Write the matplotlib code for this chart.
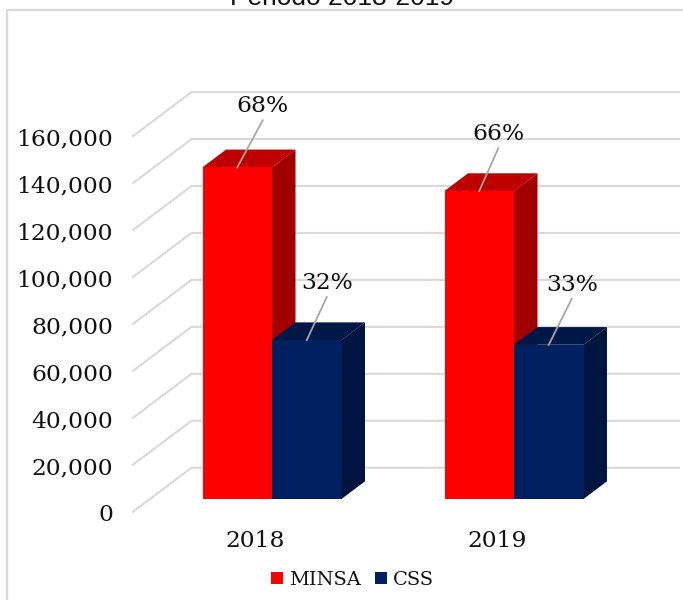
import matplotlib
matplotlib.use("Agg")
import matplotlib.pyplot as plt
from matplotlib.lines import Line2D
from matplotlib.patches import Polygon

years = ["2018", "2019"]
minsa = [141300, 131200]
css = [67700, 65700]
minsa_pct = ["68%", "66%"]
css_pct = ["32%", "33%"]
y_ticks = [0, 20000, 40000, 60000, 80000, 100000, 120000, 140000, 160000]

# pixel layout of the fake 3d box
W, H = 683, 600
PX_PER_CAT = 242.0
PX_PER_VAL = 46.95 / 20000
BASE_X, BASE_Y = 272.0, 499.0

RED = ("#ff0000", "#bf0000", "#a00000")
BLUE = ("#002060", "#001848", "#001440")
GRID = "#d9d9d9"
SERIF = "DejaVu Serif"
INK = "#111111"


def dx(px):
    return px / PX_PER_CAT


def dy(px):
    return px / PX_PER_VAL


fig = plt.figure(figsize=(W / 100, H / 100), dpi=100)
ax = fig.add_axes([0, 0, 1, 1])
ax.set_xlim(-BASE_X / PX_PER_CAT, (W - BASE_X) / PX_PER_CAT)
ax.set_ylim(-(H - BASE_Y) / PX_PER_VAL, BASE_Y / PX_PER_VAL)
ax.axis("off")

# chart frame, runs off the right and bottom of the picture
fig.add_artist(Line2D([7 / W, 7 / W, 1], [0, 1 - 10 / H, 1 - 10 / H], color=GRID, lw=1.6))

# the title is cut by the top edge in the reference too
fig.text(342 / W, 1 - 5 / H, "Periodo 2018-2019", family="Liberation Sans", fontsize=19,
         ha="center", va="baseline", color=INK)

# gridlines: side wall then back wall
left_front = dx(133 - BASE_X)
left_back = dx(191.5 - BASE_X)
right_back = dx(679 - BASE_X)
for v in y_ticks:
    y_front = v + dy(499 - 511.7)
    y_back = v + dy(499 - 467.7)
    ax.plot([left_front, left_back, right_back], [y_front, y_back, y_back],
            color=GRID, lw=1.5, solid_joinstyle="miter", zorder=1)
    ax.text(dx(113 - BASE_X), y_front - dy(1), f"{v:,}", family=SERIF, fontsize=16.8,
            ha="right", va="center_baseline", color=INK)

bar_w = dx(69.5)
depth_x = dx(23.5)
depth_y = dy(17.7)


def draw_bar(x0, value, colors, label=None):
    x1 = x0 + bar_w
    ax.add_patch(Polygon([(x1, 0), (x1 + depth_x, depth_y), (x1 + depth_x, value + depth_y), (x1, value)],
                         facecolor=colors[2], edgecolor="none", zorder=3))
    ax.add_patch(Polygon([(x0, value), (x0 + depth_x, value + depth_y), (x1 + depth_x, value + depth_y), (x1, value)],
                         facecolor=colors[1], edgecolor="none", zorder=3))
    return ax.bar(x0, value, width=bar_w, align="edge", color=colors[0], label=label, zorder=4)


def draw_label(x0, value, text, line_px, label_dy):
    # leader from the middle of the front top edge up to the percentage
    xc = x0 + bar_w / 2
    xt = xc + dx(line_px[0])
    yt = value + dy(line_px[1])
    ax.plot([xc, xt], [value, yt], color="#a6a6a6", lw=1.3, zorder=6)
    ax.text(xt, yt + dy(label_dy), text, family=SERIF, fontsize=16.8,
            ha="center", va="center_baseline", color=INK, zorder=7)


leaders_minsa = [(25.5, 47), (19, 42.7)]
leaders_css = [(20, 43), (23, 46)]

handles = []
# left group drawn first so the right hand bars sit in front of it
for i, year in enumerate(years):
    h1 = draw_bar(i - bar_w, minsa[i], RED, "MINSA" if i == 0 else None)
    h2 = draw_bar(i, css[i], BLUE, "CSS" if i == 0 else None)
    draw_label(i - bar_w, minsa[i], minsa_pct[i], leaders_minsa[i], 16.5)
    draw_label(i, css[i], css_pct[i], leaders_css[i], 16.5)
    if i == 0:
        handles = [h1, h2]
    ax.text(i + dx(-17), dy(499 - 538.5), year, family=SERIF, fontsize=16.8,
            ha="center", va="center_baseline", color=INK)

ax.legend(handles=handles, loc="center", bbox_to_anchor=(352.5 / W, 1 - 580 / H), ncol=2, frameon=False,
          prop={"family": SERIF, "size": 14}, handlelength=0.6, handleheight=0.6,
          handletextpad=0.3, columnspacing=0.75, borderpad=0, labelcolor=INK)

fig.savefig("out.png", dpi=100)
